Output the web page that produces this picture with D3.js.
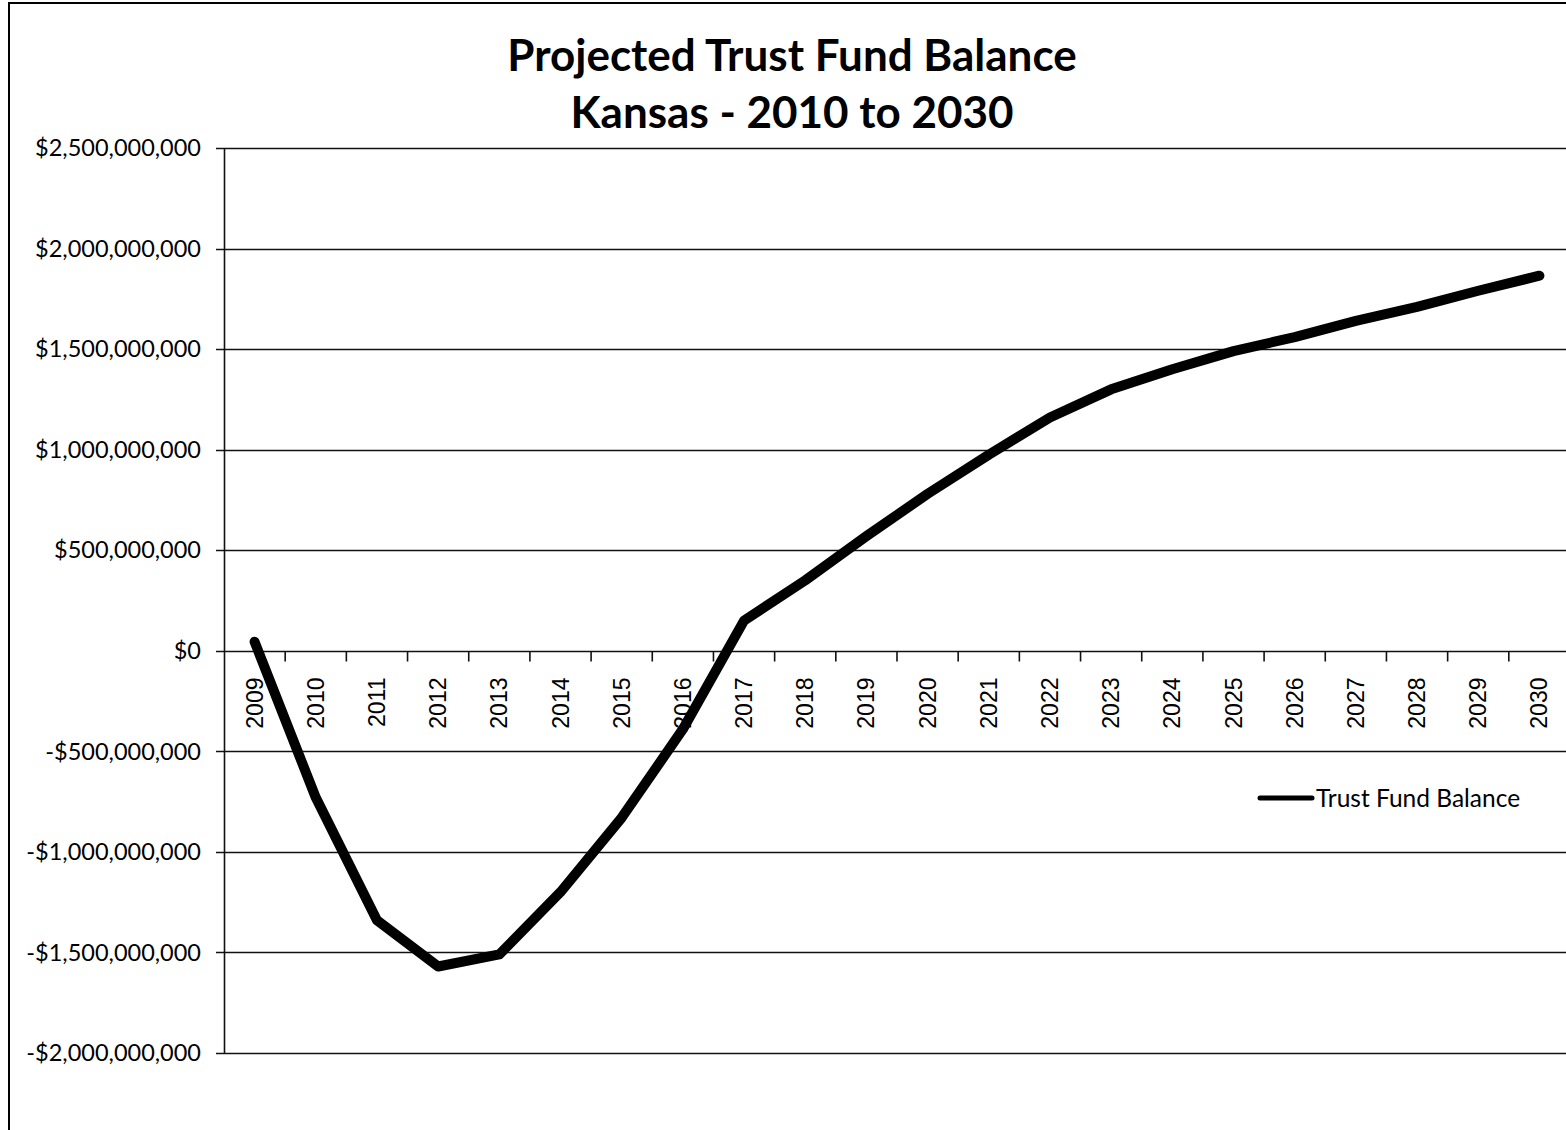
<!DOCTYPE html>
<html>
<head>
<meta charset="utf-8">
<script src="https://cdn.jsdelivr.net/npm/d3@7"></script>
<style>
  body { margin: 0; background: #fff; }
  svg { display: block; }
  text { font-family: Lato, "Open Sans", sans-serif; fill: #000; }
</style>
</head>
<body>
<svg id="chart"></svg>
<script>
// chart data
var years = ["2009","2010","2011","2012","2013","2014","2015","2016","2017","2018","2019",
             "2020","2021","2022","2023","2024","2025","2026","2027","2028","2029","2030"];
var balance = [45e6, -730e6, -1340e6, -1570e6, -1510e6, -1200e6, -830e6, -390e6, 150e6, 350e6, 570e6,
               780e6, 975e6, 1160e6, 1300e6, 1400e6, 1490e6, 1560e6, 1640e6, 1710e6, 1790e6, 1865e6];
var yTicks = [-2e9, -1.5e9, -1e9, -5e8, 0, 5e8, 1e9, 1.5e9, 2e9, 2.5e9];
var titleLines = ["Projected Trust Fund Balance", "Kansas - 2010 to 2030"];
var seriesName = "Trust Fund Balance";

var width = 1566, height = 1130;
var plotLeft = 224, plotRight = 1570, plotTop = 148, plotBottom = 1053;

var svg = d3.select("#chart")
  .attr("width", width)
  .attr("height", height);

// outer frame
svg.append("rect")
  .attr("x", 9).attr("y", 3)
  .attr("width", width + 20).attr("height", height + 20)
  .attr("fill", "none")
  .attr("stroke", "#000")
  .attr("stroke-width", 2);

var x = d3.scaleBand().domain(years).range([plotLeft, plotRight]).padding(0);
var y = d3.scaleLinear().domain([-2e9, 2.5e9]).range([plotBottom, plotTop]);

var money = function(v) {
  var s = "$" + d3.format(",")(Math.abs(v));
  return v < 0 ? "-" + s : s;
};

// gridlines
svg.append("g").selectAll("line")
  .data(yTicks)
  .enter().append("line")
  .attr("x1", plotLeft - 8).attr("x2", width)
  .attr("y1", function(d) { return Math.round(y(d)) + 0.5; })
  .attr("y2", function(d) { return Math.round(y(d)) + 0.5; })
  .attr("stroke", "#111")
  .attr("stroke-width", 1.6);

// y axis line
svg.append("line")
  .attr("x1", plotLeft + 0.5).attr("x2", plotLeft + 0.5)
  .attr("y1", plotTop).attr("y2", plotBottom)
  .attr("stroke", "#111").attr("stroke-width", 1.6);

// y labels
svg.append("g").selectAll("text")
  .data(yTicks)
  .enter().append("text")
  .attr("x", 201)
  .attr("y", function(d) { return y(d); })
  .attr("dy", "0.35em")
  .attr("text-anchor", "end")
  .style("font-size", "23.5px")
  .text(money);

// category ticks on the zero line
var y0 = Math.round(y(0)) + 0.5;
svg.append("g").selectAll("line")
  .data(years)
  .enter().append("line")
  .attr("x1", function(d) { return x(d) + x.bandwidth(); })
  .attr("x2", function(d) { return x(d) + x.bandwidth(); })
  .attr("y1", y0).attr("y2", y0 + 10)
  .attr("stroke", "#111").attr("stroke-width", 1.6);

// category labels (rotated)
svg.append("g").selectAll("text")
  .data(years)
  .enter().append("text")
  .attr("transform", function(d) {
    return "translate(" + (x(d) + x.bandwidth() / 2 + 8) + "," + (y0 + 26) + ") rotate(-90)";
  })
  .attr("text-anchor", "end")
  .style("font-family", "'Liberation Sans', Arial, sans-serif")
  .style("font-size", "23px")
  .text(function(d) { return d; });

// the series line
var line = d3.line()
  .x(function(d, i) { return x(years[i]) + x.bandwidth() / 2; })
  .y(function(d) { return y(d); });

svg.append("path")
  .datum(balance)
  .attr("d", line)
  .attr("fill", "none")
  .attr("stroke", "#000")
  .attr("stroke-width", 10)
  .attr("stroke-linejoin", "round")
  .attr("stroke-linecap", "round");

// title
svg.append("g").selectAll("text")
  .data(titleLines)
  .enter().append("text")
  .attr("x", 792)
  .attr("y", function(d, i) { return 71 + i * 57; })
  .attr("text-anchor", "middle")
  .style("font-size", "44px")
  .style("font-weight", "bold")
  .text(function(d) { return d; });

// legend
var legend = svg.append("g").attr("transform", "translate(1260,798)");
legend.append("line")
  .attr("x1", 0).attr("x2", 52)
  .attr("y1", 0).attr("y2", 0)
  .attr("stroke", "#000")
  .attr("stroke-width", 5)
  .attr("stroke-linecap", "round");
legend.append("text")
  .attr("x", 56).attr("y", 0)
  .attr("dy", "0.35em")
  .style("font-size", "24.5px")
  .text(seriesName);
</script>
</body>
</html>
